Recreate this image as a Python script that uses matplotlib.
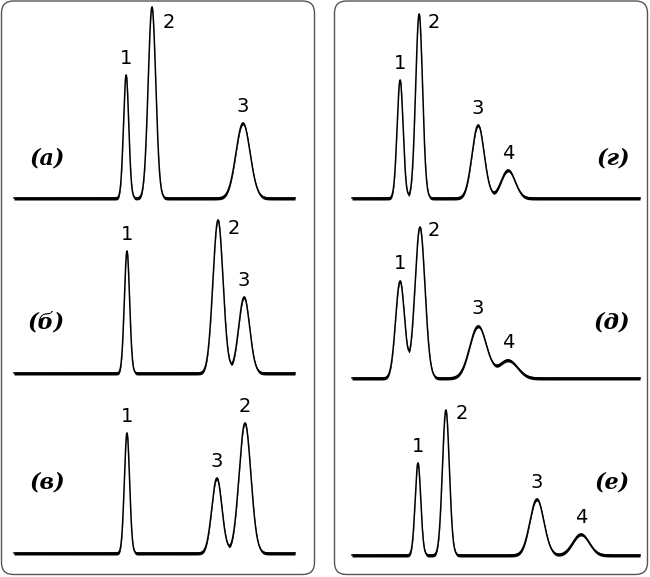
import numpy as np
import matplotlib.pyplot as plt
from matplotlib.patches import FancyBboxPatch

# chromatograms: retention time (0-100 scale across the baseline), peak height, peak width (sigma)
panel_names = ['(а)', '(б)', '(в)', '(г)', '(д)', '(е)']

peak_labels_a = ['1', '2', '3']
rt_a = [39.9, 49.1, 81.5]
height_a = [123, 191, 75]
sigma_a = [0.93, 1.35, 2.5]

peak_labels_b = ['1', '2', '3']
rt_b = [40.2, 72.6, 81.9]
height_b = [122, 153, 76]
sigma_b = [0.93, 1.8, 1.95]

peak_labels_v = ['1', '3', '2']
rt_v = [40.2, 72.2, 82.2]
height_v = [120, 75, 130]
sigma_v = [0.93, 1.8, 2.1]

peak_labels_g = ['1', '2', '3', '4']
rt_g = [16.7, 23.3, 43.8, 54.2]
height_g = [118, 184, 73, 28]
sigma_g = [1.04, 1.2, 2.1, 2.4]

peak_labels_d = ['1', '2', '3', '4']
rt_d = [16.7, 23.6, 43.8, 54.2]
height_d = [97, 151, 52, 18]
sigma_d = [1.56, 1.74, 2.9, 3.2]

peak_labels_e = ['1', '2', '3', '4']
rt_e = [22.9, 32.6, 64.2, 79.5]
height_e = [92, 145, 56, 21]
sigma_e = [0.97, 1.2, 2.4, 2.8]

charts = [
    (peak_labels_a, rt_a, height_a, sigma_a),
    (peak_labels_b, rt_b, height_b, sigma_b),
    (peak_labels_v, rt_v, height_v, sigma_v),
    (peak_labels_g, rt_g, height_g, sigma_g),
    (peak_labels_d, rt_d, height_d, sigma_d),
    (peak_labels_e, rt_e, height_e, sigma_e),
]

# layout (figure pixels): baseline left x, baseline width, baseline y from top
W, H = 650, 577
layout = [(14, 281, 198), (14, 281, 373), (14, 281, 553),
          (352, 288, 198), (352, 288, 378), (352, 288, 555)]
name_pos = [(47, 158), (46, 323), (47, 483), (613, 158), (612, 323), (612, 483)]
# peaks whose number sits to the right of the apex: label -> pixel offset
right_label = [{'2': (17, -15)}, {'2': (16, -8)}, {}, {'2': (15, -8)},
               {'2': (14, -3)}, {'2': (16, -3)}]

fig = plt.figure(figsize=(6.5, 5.77), dpi=100)

bg = fig.add_axes([0, 0, 1, 1])
bg.set_xlim(0, W)
bg.set_ylim(H, 0)
bg.axis('off')
for x0 in (1.5, 334.5):
    box = FancyBboxPatch((x0 + 12, 13), 313 - 24, H - 2.5 - 25,
                         boxstyle='round,pad=12', fc='white', ec='#555555', lw=1.0)
    bg.add_patch(box)

x = np.linspace(0, 100, 2000)
for i, (labels, rt, hgt, sig) in enumerate(charts):
    bx, bw, by = layout[i]
    ax = fig.add_axes([bx / W, 1 - (by + 5) / H, bw / W, 210 / H])
    ax.set_xlim(0, 100)
    ax.set_ylim(-5, 205)
    ax.axis('off')
    y = np.zeros_like(x)
    for r, h, s in zip(rt, hgt, sig):
        y += h * np.exp(-0.5 * ((x - r) / s) ** 2)
    # calligraphic stroke: thick where flat, thin on steep flanks
    ax.fill_between(x, y - 2.0, y + 1.1, color='black', lw=0, clip_on=False)
    ax.plot(x, y, color='black', lw=1.1, clip_on=False)
    for lab, r, h in zip(labels, rt, hgt):
        top = np.interp(r, x, y)
        off = right_label[i].get(lab, (0, 17))
        ax.annotate(lab, (r, top), xytext=off, textcoords='offset pixels',
                    ha='center', va='center', fontsize=14, family='DejaVu Sans')
    nx, ny = name_pos[i]
    bg.text(nx, ny, panel_names[i], ha='center', va='center', fontsize=16,
            style='italic', weight='bold', family='DejaVu Serif')

fig.savefig('out.png', dpi=100)
